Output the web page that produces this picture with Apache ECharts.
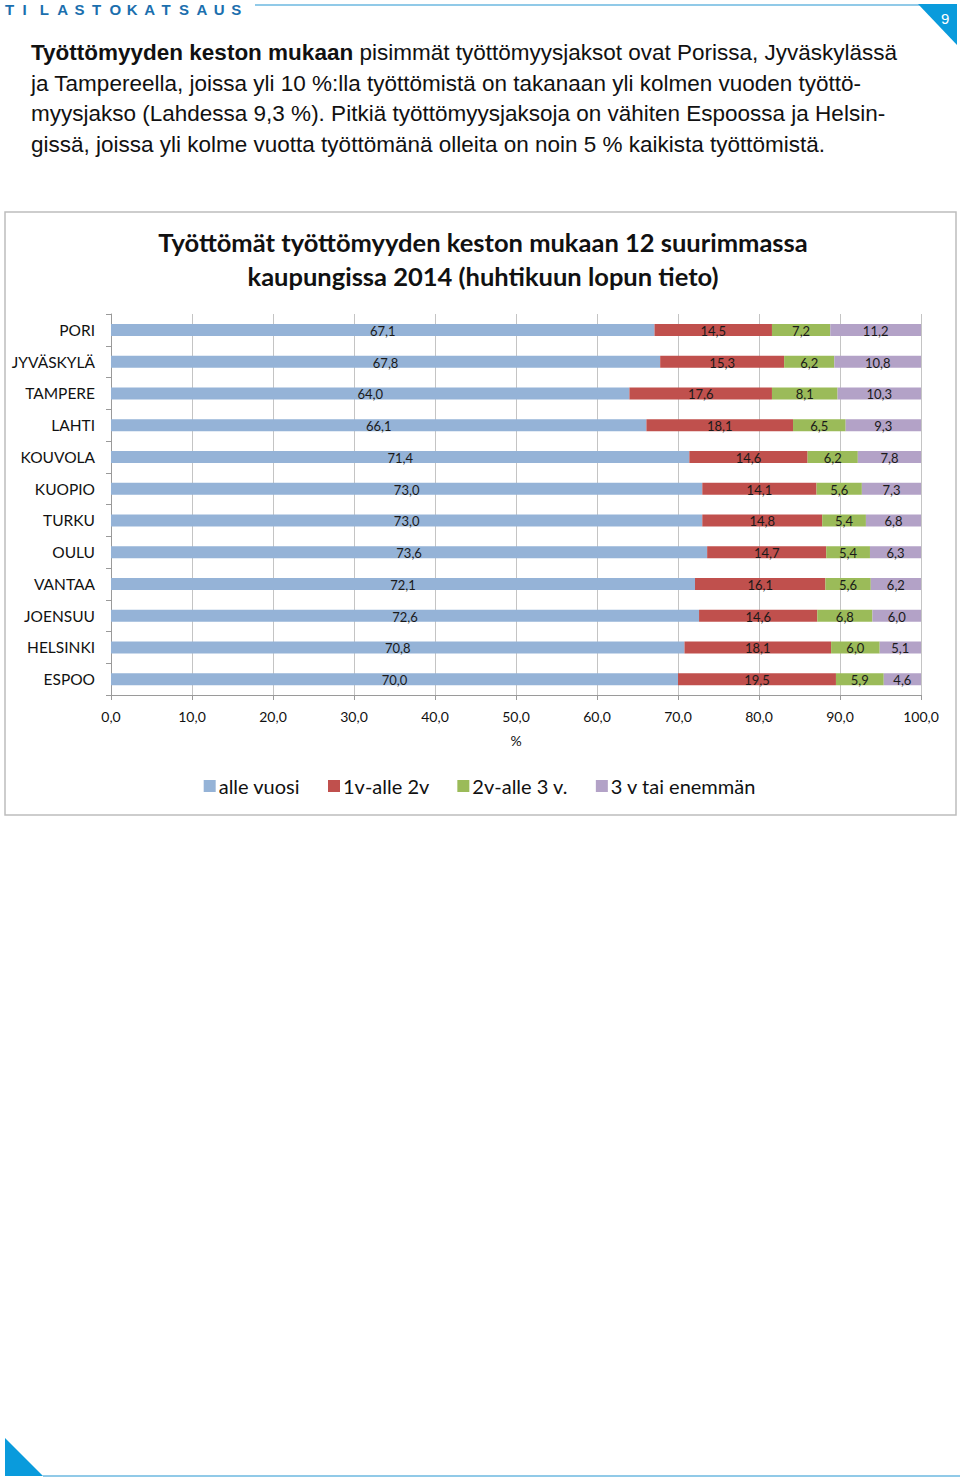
<!DOCTYPE html>
<html>
<head>
<meta charset="utf-8">
<script src="https://cdn.jsdelivr.net/npm/echarts@6.0.0/dist/echarts.min.js"></script>
<style>
  html, body { margin: 0; padding: 0; background: #fff; }
  #page { width: 960px; height: 1479px; }
</style>
</head>
<body>
<div id="page"></div>
<script>
  // kaupungit ja osuudet (%)
  const cities = ['PORI', 'JYVÄSKYLÄ', 'TAMPERE', 'LAHTI', 'KOUVOLA', 'KUOPIO', 'TURKU', 'OULU', 'VANTAA', 'JOENSUU', 'HELSINKI', 'ESPOO'];
  const alleVuosi = [67.1, 67.8, 64.0, 66.1, 71.4, 73.0, 73.0, 73.6, 72.1, 72.6, 70.8, 70.0];
  const v1alle2 = [14.5, 15.3, 17.6, 18.1, 14.6, 14.1, 14.8, 14.7, 16.1, 14.6, 18.1, 19.5];
  const v2alle3 = [7.2, 6.2, 8.1, 6.5, 6.2, 5.6, 5.4, 5.4, 5.6, 6.8, 6.0, 5.9];
  const v3tai = [11.2, 10.8, 10.3, 9.3, 7.8, 7.3, 6.8, 6.3, 6.2, 6.0, 5.1, 4.6];
  const seriesNames = ['alle vuosi', '1v-alle 2v', '2v-alle 3 v.', '3 v tai enemmän'];
  const xTicks = [0, 10, 20, 30, 40, 50, 60, 70, 80, 90, 100];

  const colors = ['#95B3D7', '#C0504D', '#9BBB59', '#B3A2C7'];
  const brand = '#0A9BDC';
  const arial = 'Liberation Sans, Arial, sans-serif';
  const fi = (v) => v.toFixed(1).replace('.', ',');

  const chart = echarts.init(document.getElementById('page'), null, { renderer: 'svg' });

  const paraLines = [
    '{b|Työttömyyden keston mukaan} pisimmät työttömyysjaksot ovat Porissa, Jyväskylässä',
    'ja Tampereella, joissa yli 10 %:lla työttömistä on takanaan yli kolmen vuoden työttö-',
    'myysjakso (Lahdessa 9,3 %). Pitkiä työttömyysjaksoja on vähiten Espoossa ja Helsin-',
    'gissä, joissa yli kolme vuotta työttömänä olleita on noin 5 % kaikista työttömistä.'
  ];

  const graphics = [];
  // otsikkopalkki
  'TILASTOKATSAUS'.split('').forEach((ch, i) => {
    graphics.push({
      type: 'text', x: 5 + i * 17.4, y: 2,
      style: { text: ch, fill: '#1B6FAE', fontFamily: arial, fontSize: 15, fontWeight: 'bold' }
    });
  });
  graphics.push(
    { type: 'line', shape: { x1: 255, y1: 5, x2: 920, y2: 5 }, style: { stroke: '#6CB8E0', lineWidth: 1.5 } },
    { type: 'polygon', shape: { points: [[918, 4], [957, 4], [957, 45]] }, style: { fill: brand } },
    { type: 'text', x: 941, y: 11, style: { text: '9', fill: '#fff', fontFamily: arial, fontSize: 15 } },
    { type: 'polygon', shape: { points: [[5, 1438], [5, 1476], [43, 1476]] }, style: { fill: brand } },
    { type: 'line', shape: { x1: 43, y1: 1476, x2: 960, y2: 1476 }, style: { stroke: '#6CB8E0', lineWidth: 1.5 } },
    // kaavion kehys
    { type: 'rect', shape: { x: 5, y: 212, width: 951, height: 603 }, style: { fill: 'none', stroke: '#BDBDBD', lineWidth: 1.5 } }
  );
  paraLines.forEach((t, i) => {
    graphics.push({
      type: 'text', x: 31, y: 41 + i * 30.7,
      style: {
        text: t, fill: '#111', fontFamily: arial, fontSize: 22.5,
        rich: { b: { fontWeight: 'bold', fontSize: 22.5, fontFamily: arial, fill: '#111' } }
      }
    });
  });

  const data = [alleVuosi, v1alle2, v2alle3, v3tai];

  const option = {
    animation: false,
    color: colors,
    textStyle: { fontFamily: 'Lato, Noto Sans, sans-serif' },
    title: {
      text: 'Työttömät työttömyyden keston mukaan 12 suurimmassa\nkaupungissa 2014 (huhtikuun lopun tieto)',
      left: 478, top: 220, textAlign: 'center',
      textStyle: { fontSize: 25.5, fontWeight: 'bold', color: '#111', lineHeight: 34, fontFamily: 'Lato, sans-serif' }
    },
    legend: {
      top: 771, left: 'center', itemWidth: 12, itemHeight: 12, itemGap: 28,
      icon: 'rect',
      textStyle: { fontSize: 20, color: '#111', padding: [0, 0, 0, -2] },
      data: seriesNames
    },
    grid: { left: 111, right: 39, top: 314, bottom: 784 },
    xAxis: {
      type: 'value', min: 0, max: 100, interval: 10,
      name: '%', nameLocation: 'middle', nameGap: 38,
      nameTextStyle: { fontSize: 14, color: '#111' },
      axisLine: { show: true, lineStyle: { color: '#9A9A9A' } },
      axisTick: { show: true, length: 5, lineStyle: { color: '#9A9A9A' } },
      axisLabel: { fontSize: 14, color: '#111', margin: 14, formatter: (v) => xTicks.includes(v) ? fi(v) : '' },
      splitLine: { show: true, lineStyle: { color: '#C4C4C4' } }
    },
    yAxis: {
      type: 'category', data: cities, inverse: true,
      axisLine: { show: true, lineStyle: { color: '#9A9A9A' } },
      axisTick: { show: true, length: 5, lineStyle: { color: '#9A9A9A' } },
      axisLabel: { fontSize: 15.5, color: '#111', margin: 16 }
    },
    series: seriesNames.map((name, i) => ({
      name, type: 'bar', stack: 'kesto', barWidth: 12,
      data: data[i],
      label: {
        show: true, position: 'inside', fontSize: 13, color: '#1A1A1A', offset: [0, 1],
        formatter: (p) => fi(p.value)
      }
    })),
    graphic: graphics
  };

  chart.setOption(option);
</script>
</body>
</html>
